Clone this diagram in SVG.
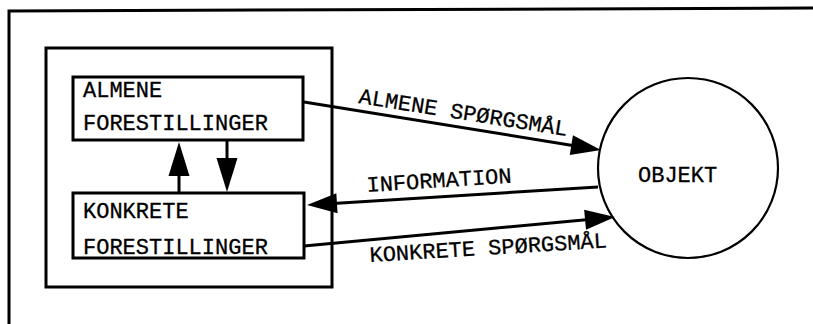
<svg xmlns="http://www.w3.org/2000/svg" width="813" height="324" viewBox="0 0 813 324">
<style>
.box{fill:none;stroke:#000;stroke-width:3}
.ln{fill:none;stroke:#000;stroke-width:3;marker-end:url(#ah)}
.lv{fill:none;stroke:#000;stroke-width:3;marker-end:url(#ahv)}
.t{font-family:"Liberation Mono","DejaVu Sans Mono",monospace;font-size:22px;fill:#000;stroke:#000;stroke-width:0.3}
</style>
<defs>
<marker id="ah" markerUnits="userSpaceOnUse" markerWidth="32" markerHeight="22" refX="20" refY="10" orient="auto" overflow="visible">
<path d="M0,0 L30,10 L0,20 Z" fill="#000"/>
</marker>
<marker id="ahv" markerUnits="userSpaceOnUse" markerWidth="36" markerHeight="22" refX="24" refY="10.5" orient="auto" overflow="visible">
<path d="M0,0 L34,10.5 L0,21 Z" fill="#000"/>
</marker>
</defs>
<rect width="813" height="324" fill="#fff"/>
<g id="frame">
<polyline points="9,324 9,11 813,8" class="box"/>
</g>
<g id="system">
<rect x="46" y="48" width="286" height="239" class="box"/>
</g>
<g id="almene">
<rect x="73" y="77" width="230" height="63" class="box"/>
<text class="t" x="83" y="97">ALMENE</text>
<text class="t" x="83" y="130">FORESTILLINGER</text>
</g>
<g id="konkrete">
<rect x="73" y="193" width="231" height="65" class="box"/>
<text class="t" x="83" y="218">KONKRETE</text>
<text class="t" x="83" y="254">FORESTILLINGER</text>
</g>
<g id="objekt">
<circle cx="688" cy="168" r="90" fill="none" stroke="#000" stroke-width="2.2"/>
<text class="t" x="638" y="182">OBJEKT</text>
</g>
<g id="connectors">
<line x1="304" y1="102" x2="591.1" y2="148.4" class="ln"/>
<line x1="598" y1="187" x2="317" y2="204.4" class="ln"/>
<line x1="304" y1="246" x2="605" y2="217.9" class="ln"/>
<line x1="179" y1="193" x2="179" y2="152" class="lv"/>
<line x1="227" y1="141" x2="227" y2="182" class="lv"/>
<text class="t" x="358" y="103" transform="rotate(9 358 103)">ALMENE SPØRGSMÅL</text>
<text class="t" x="367" y="192" transform="rotate(-3.7 367 192)">INFORMATION</text>
<text class="t" x="370" y="262" transform="rotate(-3.5 370 262)">KONKRETE SPØRGSMÅL</text>
</g>
</svg>
